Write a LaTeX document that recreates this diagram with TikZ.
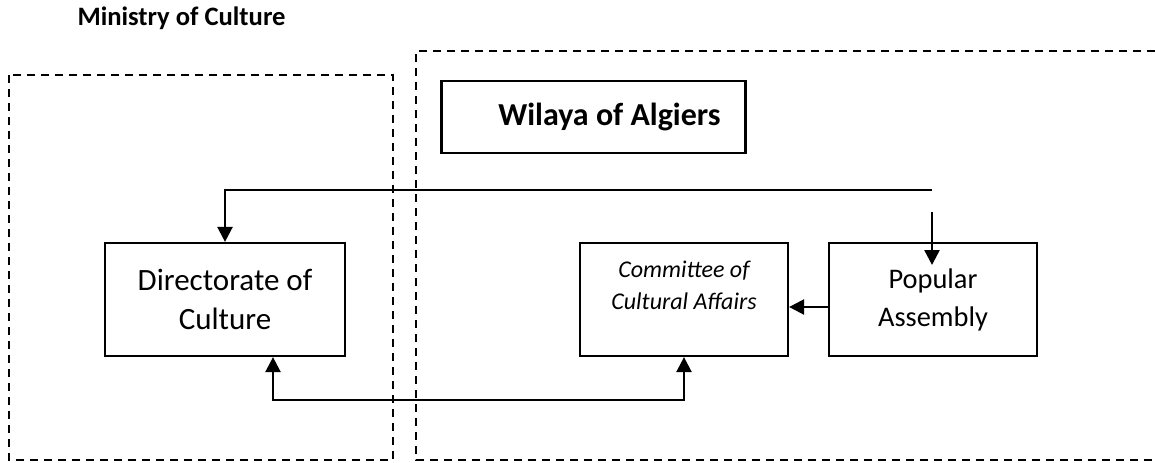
\documentclass[tikz,border=0pt]{standalone}
\usepackage{fontspec}
\setmainfont{Carlito}
\usetikzlibrary{arrows.meta}
\begin{document}
\begin{tikzpicture}[x=.5pt,y=-.5pt,
  box/.style={draw, line width=1.1pt, inner sep=0pt, align=center, font=\fontsize{15.5}{19.5}\selectfont},
  zone/.style={draw, line width=1.1pt, dash pattern=on 4pt off 3pt},
  tip/.tip={Triangle[width=7.5pt,length=7.5pt]},
  link/.style={line width=1.2pt, -tip}]
\useasboundingbox (0,0) rectangle (1155,462);
\node[font=\fontsize{13.3}{16}\selectfont\bfseries] (min) at (181.5,18){Ministry of Culture};
\draw[zone] (9,75) rectangle (393,460);
\draw[zone] (1155,51) -- (416,51) -- (416,460) -- (1155,460);
\node[box, minimum width=152pt, minimum height=36pt, font=\fontsize{16}{19}\selectfont\bfseries] (wil) at (593.5,117){\hspace*{16pt}Wilaya of Algiers};
\node[box, minimum width=120pt, minimum height=56.5pt] (dir) at (225,299.5){Directorate of\\Culture};
\node[box, minimum width=104pt, minimum height=56.5pt, font=\fontsize{12}{16}\selectfont\itshape] (cca) at (684,299.5){Committee of\\Cultural Affairs\\[-7pt]\strut};
\node[box, minimum width=104pt, minimum height=56.5pt, font=\fontsize{14.2}{19}\selectfont] (apc) at (933,299.5){Popular\\Assembly};
\coordinate (t0) at (932,190);
\coordinate (t1) at (932,212);
\coordinate (t2) at (932,265);
\coordinate (b0) at (273,400);
\draw[link] (t0) -| (dir.north);
\draw[link] (t1) -- (t2);
\draw[link] ([yshift=-3.75pt]apc.west) -- ([yshift=-3.75pt]cca.east);
\draw[link, tip-tip] (b0 |- dir.south) -- (b0) -| (cca.south);
\end{tikzpicture}
\end{document}
